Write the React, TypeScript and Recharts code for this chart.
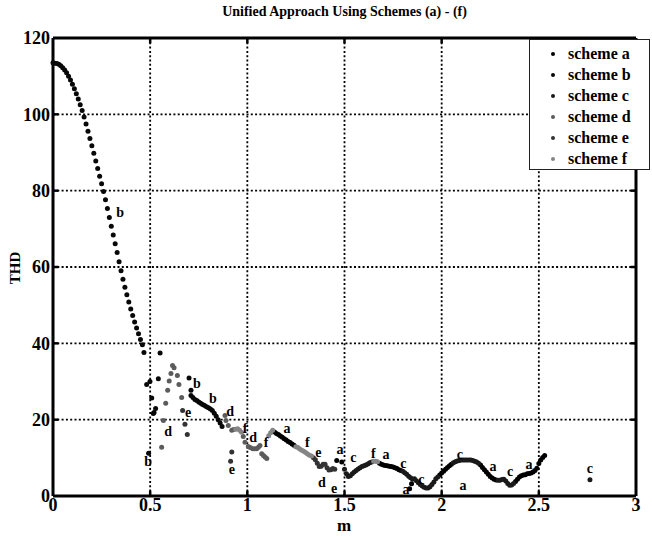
import React from 'react';
import {
  ScatterChart, Scatter, XAxis, YAxis, CartesianGrid, ReferenceLine,
} from 'recharts';

// THD versus modulation index m, one list of [m, THD] points per scheme.
const schemeA: [number, number][] = [
  [1.14, 16.8], [1.15, 16.4], [1.16, 16.1], [1.17, 15.7], [1.18, 15.4], [1.19, 15.0],
  [1.2, 14.7], [1.21, 14.3], [1.22, 14.0], [1.23, 13.6], [1.24, 13.3],
  [1.46, 9.3], [1.486, 8.9],
  [1.68, 8.6], [1.69, 8.3], [1.7, 8.1], [1.71, 8.0], [1.72, 7.9], [1.73, 7.8], [1.74, 7.7],
  [1.75, 7.6], [1.76, 7.4], [1.77, 7.2], [1.78, 6.9], [1.79, 6.7],
  [1.835, 1.9], [1.845, 3.2],
  [1.99, 5.5], [2.0, 6.0], [2.01, 6.5], [2.02, 7.0], [2.03, 7.5], [2.04, 7.9], [2.05, 8.3],
  [2.2, 8.1], [2.21, 7.5], [2.22, 6.9], [2.23, 6.3], [2.24, 5.7], [2.25, 5.1], [2.26, 4.7],
  [2.27, 4.4], [2.28, 4.2],
  [2.38, 3.8], [2.39, 4.4], [2.4, 5.0], [2.41, 5.3], [2.42, 5.5], [2.43, 5.6], [2.44, 5.8],
  [2.45, 5.9], [2.46, 6.0], [2.47, 6.3], [2.48, 6.7], [2.49, 7.3], [2.5, 8.5], [2.51, 9.4],
  [2.52, 10.1], [2.53, 10.6],
];

const schemeB: [number, number][] = [
  [0, 113.5], [0.01, 113.4], [0.02, 113.3], [0.03, 113.1], [0.04, 112.7], [0.05, 112.2],
  [0.06, 111.6], [0.07, 110.9], [0.08, 110.0], [0.09, 109.0], [0.1, 107.9], [0.11, 106.7],
  [0.12, 105.4], [0.13, 104.0], [0.14, 102.5], [0.15, 101.0], [0.16, 99.3], [0.17, 97.5],
  [0.18, 95.6], [0.19, 93.7], [0.2, 91.8], [0.21, 89.8], [0.22, 87.8], [0.23, 85.8],
  [0.24, 83.8], [0.25, 81.8], [0.26, 79.8], [0.27, 77.6], [0.28, 75.3], [0.29, 73.0],
  [0.3, 70.7], [0.31, 68.4], [0.32, 66.1], [0.33, 63.8], [0.34, 61.4], [0.35, 59.0],
  [0.36, 56.8], [0.37, 54.7], [0.38, 52.7], [0.39, 50.8], [0.4, 49.0], [0.41, 47.3],
  [0.42, 45.6], [0.43, 44.0], [0.44, 42.5], [0.45, 41.0], [0.46, 39.6],
  [0.468, 37.6], [0.551, 37.5], [0.542, 30.7], [0.7, 30.9], [0.499, 30.0], [0.482, 29.2],
  [0.71, 27.7], [0.508, 25.7], [0.528, 22.9], [0.52, 21.9], [0.516, 21.6], [0.492, 11.2],
  [0.71, 26.3], [0.72, 25.8], [0.73, 25.3], [0.74, 25.0], [0.75, 24.6], [0.76, 24.3],
  [0.77, 24.0], [0.78, 23.7], [0.79, 23.4], [0.8, 23.1], [0.81, 22.8], [0.82, 22.4],
  [0.83, 21.7], [0.84, 20.9], [0.85, 20.0], [0.86, 19.1], [0.87, 18.2],
];

const schemeC: [number, number][] = [
  [1.5, 7.0], [1.51, 5.8], [1.52, 5.1], [1.53, 5.3], [1.54, 5.8], [1.55, 6.3], [1.56, 6.7],
  [1.57, 7.1], [1.58, 7.4], [1.59, 7.7], [1.6, 7.9], [1.61, 8.1], [1.62, 8.4], [1.63, 8.7],
  [1.64, 8.9],
  [1.8, 6.5], [1.81, 6.1], [1.82, 5.7], [1.83, 5.2], [1.84, 4.8], [1.85, 4.4], [1.86, 4.5],
  [1.87, 4.0], [1.88, 3.5], [1.89, 3.0], [1.9, 2.6], [1.91, 2.3], [1.92, 2.1], [1.93, 2.1],
  [1.94, 2.4], [1.95, 3.0], [1.96, 3.7], [1.97, 4.5], [1.98, 5.0],
  [2.06, 8.7], [2.07, 9.0], [2.08, 9.2], [2.09, 9.3], [2.1, 9.4], [2.11, 9.4], [2.12, 9.4],
  [2.13, 9.4], [2.14, 9.4], [2.15, 9.4], [2.16, 9.3], [2.17, 9.1], [2.18, 8.9], [2.19, 8.6],
  [2.29, 4.1], [2.3, 4.1], [2.31, 4.3], [2.32, 4.4], [2.33, 3.9], [2.34, 3.3], [2.35, 2.8],
  [2.36, 2.9], [2.37, 3.3],
  [2.763, 4.25],
];

const schemeD: [number, number][] = [
  [0.615, 34.2], [0.623, 33.6], [0.607, 32.1], [0.64, 31.6], [0.598, 30.1], [0.648, 29.2],
  [0.59, 27.7], [0.662, 25.8], [0.58, 24.3], [0.568, 19.8], [0.559, 12.8],
  [0.885, 21.1], [0.89, 19.8], [0.902, 18.5], [0.92, 17.2], [0.93, 17.4],
  [0.979, 15.6], [0.988, 14.1], [1.005, 13.0], [1.015, 12.7], [1.028, 12.4], [1.038, 12.4],
  [1.048, 12.4], [1.057, 12.8], [1.065, 13.2], [1.074, 11.1], [1.083, 10.6], [1.091, 10.2],
  [1.1, 9.8],
];

const schemeE: [number, number][] = [
  [0.667, 22.4], [0.679, 18.8], [0.691, 16.1], [0.92, 11.5], [0.914, 9.1],
  [1.34, 10.0], [1.35, 9.5], [1.36, 8.6], [1.37, 7.7], [1.38, 7.8], [1.39, 8.3], [1.4, 8.3],
  [1.41, 7.4], [1.42, 6.8], [1.43, 6.9], [1.44, 7.2], [1.45, 7.0],
];

const schemeF: [number, number][] = [
  [0.94, 17.5], [0.95, 17.6], [0.96, 17.2], [0.97, 16.7],
  [1.11, 15.8], [1.12, 16.6], [1.13, 17.2],
  [1.25, 12.9], [1.26, 12.7], [1.27, 12.3], [1.28, 12.0], [1.29, 11.7], [1.3, 11.4],
  [1.31, 11.0], [1.32, 10.7], [1.33, 10.5],
  [1.65, 9.1], [1.66, 9.1], [1.67, 9.0],
];

// letters written next to the curve: [m, THD, scheme letter]
const letters: [number, number, string][] = [
  [0.345, 74.2, 'b'], [0.489, 9.0, 'b'], [0.741, 29.5, 'b'], [0.823, 25.6, 'b'],
  [0.592, 17.0, 'd'], [0.695, 21.9, 'e'], [0.911, 22.2, 'd'], [0.988, 17.7, 'f'],
  [1.03, 15.3, 'd'], [0.921, 6.9, 'e'], [1.096, 14.0, 'f'], [1.204, 17.6, 'a'],
  [1.309, 14.1, 'f'], [1.365, 11.5, 'e'], [1.384, 3.5, 'd'], [1.446, 1.9, 'e'],
  [1.477, 12.1, 'a'], [1.545, 10.0, 'c'], [1.648, 11.1, 'f'], [1.714, 10.9, 'a'],
  [1.803, 8.6, 'c'], [1.896, 4.4, 'c'], [1.816, 1.7, 'a'], [2.11, 2.8, 'a'],
  [2.094, 10.9, 'c'], [2.264, 7.7, 'a'], [2.352, 6.4, 'c'], [2.45, 8.3, 'a'],
  [2.763, 7.2, 'c'],
];

const xTicks = [0, 0.5, 1, 1.5, 2, 2.5, 3];
const yTicks = [0, 20, 40, 60, 80, 100, 120];

const schemes = [
  { name: 'scheme a', points: schemeA, color: '#000000' },
  { name: 'scheme b', points: schemeB, color: '#080808' },
  { name: 'scheme c', points: schemeC, color: '#1a1a1a' },
  { name: 'scheme d', points: schemeD, color: '#5c5c5c' },
  { name: 'scheme e', points: schemeE, color: '#333333' },
  { name: 'scheme f', points: schemeF, color: '#858585' },
];

const serif = '"Liberation Serif", "Times New Roman", serif';
const tickStyle = { fontFamily: serif, fontWeight: 700, fontSize: 18, fill: '#000' };
const frame = { stroke: '#000', strokeWidth: 3 };
const tickMark = { stroke: '#000', strokeWidth: 2.5 };

const toRows = (pts: [number, number][]) => pts.map(([m, thd]) => ({ m, thd }));
const letterRows = letters.map(([m, thd, text]) => ({ m, thd, text }));

// eslint-disable-next-line @typescript-eslint/no-explicit-any
const dot = (color: string) => (p: any) => <circle cx={p.cx} cy={p.cy} r={2.5} fill={color} />;

// eslint-disable-next-line @typescript-eslint/no-explicit-any
const letterShape = (p: any) => (
  <text
    x={p.cx}
    y={p.cy}
    textAnchor="middle"
    dominantBaseline="central"
    fontFamily={serif}
    fontWeight={700}
    fontSize={14}
    fill="#000"
  >
    {p.payload.text}
  </text>
);

export default function App() {
  return (
    <div style={{ position: 'absolute', left: 0, top: 0, width: 652, height: 537, background: '#fff' }}>
      <div
        style={{
          position: 'absolute', left: 53, width: 583, top: 4, textAlign: 'center',
          fontFamily: serif, fontWeight: 700, fontSize: 14,
        }}
      >
        Unified Approach Using Schemes (a) - (f)
      </div>
      <div
        style={{
          position: 'absolute', left: 15, top: 268, transform: 'translate(-50%, -50%) rotate(-90deg)',
          fontFamily: serif, fontWeight: 700, fontSize: 15,
        }}
      >
        THD
      </div>
      <div
        style={{
          position: 'absolute', left: 344, top: 525, transform: 'translate(-50%, -50%)',
          fontFamily: serif, fontWeight: 700, fontSize: 17, lineHeight: '17px',
        }}
      >
        m
      </div>

      <ScatterChart width={652} height={537} margin={{ top: 38, right: 16, bottom: 0, left: 0 }}>
        <CartesianGrid stroke="#000" strokeWidth={1.8} strokeDasharray="2 2.3" />
        <XAxis
          type="number"
          dataKey="m"
          domain={[0, 3]}
          ticks={xTicks}
          height={41}
          axisLine={false}
          tickLine={false}
          tickSize={0}
          tick={tickStyle}
          tickFormatter={(v) => String(v)}
        />
        <YAxis
          type="number"
          dataKey="thd"
          domain={[0, 120]}
          ticks={yTicks}
          width={53}
          axisLine={false}
          tickLine={false}
          tickSize={1}
          tick={tickStyle}
        />
        {xTicks.slice(1, -1).map((t) => (
          <ReferenceLine key={`xb${t}`} segment={[{ x: t, y: 0 }, { x: t, y: 1.4 }]} {...tickMark} />
        ))}
        {xTicks.slice(1, -1).map((t) => (
          <ReferenceLine key={`xt${t}`} segment={[{ x: t, y: 120 }, { x: t, y: 118.6 }]} {...tickMark} />
        ))}
        {yTicks.slice(1, -1).map((t) => (
          <ReferenceLine key={`yl${t}`} segment={[{ x: 0, y: t }, { x: 0.028, y: t }]} {...tickMark} />
        ))}
        {yTicks.slice(1, -1).map((t) => (
          <ReferenceLine key={`yr${t}`} segment={[{ x: 3, y: t }, { x: 2.972, y: t }]} {...tickMark} />
        ))}
        {schemes.map((s) => (
          <Scatter
            key={s.name}
            name={s.name}
            data={toRows(s.points)}
            shape={dot(s.color)}
            isAnimationActive={false}
          />
        ))}
        <Scatter name="letters" data={letterRows} shape={letterShape} isAnimationActive={false} />
        <ReferenceLine y={0} {...frame} />
        <ReferenceLine y={120} {...frame} />
        <ReferenceLine x={0} {...frame} />
        <ReferenceLine x={3} {...frame} />
      </ScatterChart>

      <div
        style={{
          position: 'absolute', left: 529, top: 39, width: 121, height: 131,
          border: '1px solid #222', background: '#fff', boxSizing: 'border-box',
          fontFamily: serif, fontWeight: 700, fontSize: 16, paddingTop: 3,
        }}
      >
        {schemes.map((s) => (
          <div key={s.name} style={{ display: 'flex', alignItems: 'center', height: 21 }}>
            <span
              style={{
                display: 'inline-block', width: 4, height: 4, borderRadius: 2,
                background: s.color, marginLeft: 21, marginRight: 13,
              }}
            />
            <span>{s.name}</span>
          </div>
        ))}
      </div>
    </div>
  );
}
